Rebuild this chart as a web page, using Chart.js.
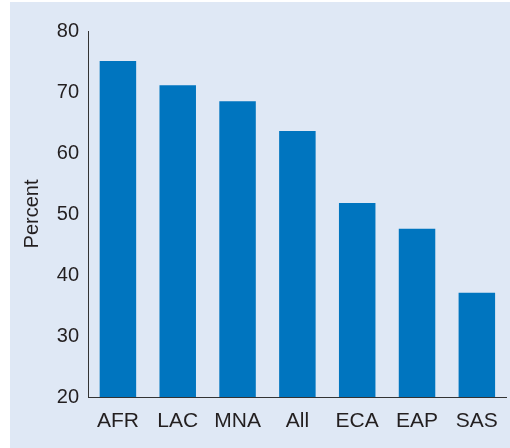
<!DOCTYPE html>
<html>
<head>
<meta charset="utf-8">
<script src="https://cdn.jsdelivr.net/npm/chart.js@4"></script>
<style>
    html, body { margin: 0; padding: 0; background: #ffffff; }
    #panel { position: absolute; left: 10px; top: 2px; width: 500px; height: 446px; background: #dfe8f5; }
    #chart { display: block; }
</style>
</head>
<body>
<div id="panel"><canvas id="chart" width="500" height="446"></canvas></div>
<script>
const regions = ["AFR", "LAC", "MNA", "All", "ECA", "EAP", "SAS"];
const percentValues = [75.1, 71.1, 68.5, 63.6, 51.8, 47.6, 37.1];
const yTicks = [20, 30, 40, 50, 60, 70, 80];

const fontFamily = "'Liberation Sans', Arial, sans-serif";
const textColor = "#231f20";

new Chart(document.getElementById("chart").getContext("2d"), {
    type: 'bar',
    data: {
        labels: regions,
        datasets: [{
            data: percentValues,
            backgroundColor: '#0075bf',
            borderWidth: 0,
            categoryPercentage: 1,
            barPercentage: 0.61
        }]
    },
    options: {
        responsive: false,
        animation: false,
        layout: { padding: { top: 29, right: 2, left: 0, bottom: 0 } },
        plugins: {
            legend: { display: false },
            tooltip: { enabled: false }
        },
        scales: {
            x: {
                grid: { display: false, drawTicks: false },
                border: { display: true, color: '#333333', width: 1 },
                ticks: {
                    color: textColor,
                    padding: 12,
                    font: { family: fontFamily, size: 21 }
                },
                afterFit: scale => { scale.height = 51; }
            },
            y: {
                min: yTicks[0],
                max: yTicks[yTicks.length - 1],
                afterBuildTicks: scale => { scale.ticks = yTicks.map(v => ({ value: v })); },
                grid: { display: false, drawTicks: false },
                border: { display: true, color: '#333333', width: 1 },
                ticks: {
                    color: textColor,
                    padding: 9,
                    font: { family: fontFamily, size: 20 }
                },
                title: {
                    display: true,
                    text: 'Percent',
                    color: textColor,
                    padding: { top: 10, bottom: 0 },
                    font: { family: fontFamily, size: 20 }
                },
                afterFit: scale => { scale.width = 78; }
            }
        }
    }
});
</script>
</body>
</html>
